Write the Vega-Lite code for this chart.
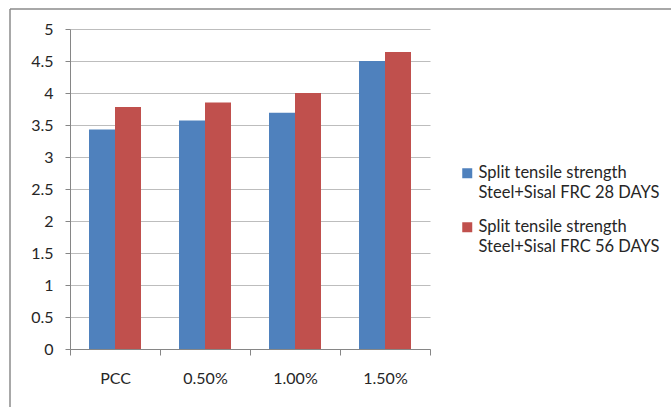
{
  "$schema": "https://vega.github.io/schema/vega-lite/v6.json",
  "width": 661,
  "height": 398,
  "autosize": {"type": "none"},
  "padding": {"left": 10, "top": 9, "right": 0, "bottom": 0},
  "background": "white",
  "config": {
    "font": "Lato",
    "view": {"stroke": "#8c8c8c", "strokeWidth": 1.5, "strokeDash": [661, 1059, 398, 0]},
    "axis": {
      "labelFont": "Lato",
      "labelFontSize": 16,
      "labelColor": "#262626",
      "domainColor": "#868686",
      "tickColor": "#868686",
      "gridColor": "#bdbdbd",
      "title": null
    }
  },
  "data": {
    "values": [
      {"mix": "PCC", "series": "Split tensile strength Steel+Sisal FRC 28 DAYS", "value": 3.43},
      {"mix": "PCC", "series": "Split tensile strength Steel+Sisal FRC 56 DAYS", "value": 3.78},
      {"mix": "0.50%", "series": "Split tensile strength Steel+Sisal FRC 28 DAYS", "value": 3.57},
      {"mix": "0.50%", "series": "Split tensile strength Steel+Sisal FRC 56 DAYS", "value": 3.85},
      {"mix": "1.00%", "series": "Split tensile strength Steel+Sisal FRC 28 DAYS", "value": 3.69},
      {"mix": "1.00%", "series": "Split tensile strength Steel+Sisal FRC 56 DAYS", "value": 4.0},
      {"mix": "1.50%", "series": "Split tensile strength Steel+Sisal FRC 28 DAYS", "value": 4.5},
      {"mix": "1.50%", "series": "Split tensile strength Steel+Sisal FRC 56 DAYS", "value": 4.64}
    ]
  },
  "mark": {"type": "bar"},
  "encoding": {
    "x": {
      "field": "mix",
      "type": "nominal",
      "sort": ["PCC", "0.50%", "1.00%", "1.50%"],
      "scale": {"range": [60, 420], "paddingInner": 0, "paddingOuter": 0},
      "axis": {
        "offset": -58,
        "labelAngle": 0,
        "tickBand": "extent",
        "tickSize": 6,
        "labelPadding": 15,
        "grid": false
      }
    },
    "xOffset": {
      "field": "series",
      "type": "nominal",
      "scale": {"paddingInner": 0, "paddingOuter": 0.7308}
    },
    "y": {
      "field": "value",
      "type": "quantitative",
      "scale": {"domain": [0, 5], "range": [340, 20], "nice": false},
      "axis": {
        "offset": -60,
        "values": [0, 0.5, 1, 1.5, 2, 2.5, 3, 3.5, 4, 4.5, 5],
        "format": "~g",
        "tickSize": 5,
        "labelPadding": 12,
        "grid": true
      }
    },
    "color": {
      "field": "series",
      "type": "nominal",
      "scale": {"range": ["#4f81bd", "#c0504d"]},
      "legend": {
        "title": null,
        "orient": "none",
        "legendX": 449,
        "legendY": 156,
        "symbolType": "square",
        "symbolSize": 100,
        "symbolStrokeWidth": 0,
        "symbolOpacity": 1,
        "labelFont": "Lato",
        "labelFontSize": 16.5,
        "labelColor": "#262626",
        "labelLimit": 300,
        "labelOffset": 3,
        "rowPadding": 17,
        "labelExpr": "[substring(datum.label, 0, 22), substring(datum.label, 23)]",
        "encode": {"labels": {"update": {"lineHeight": {"value": 20}}}}
      }
    }
  }
}
